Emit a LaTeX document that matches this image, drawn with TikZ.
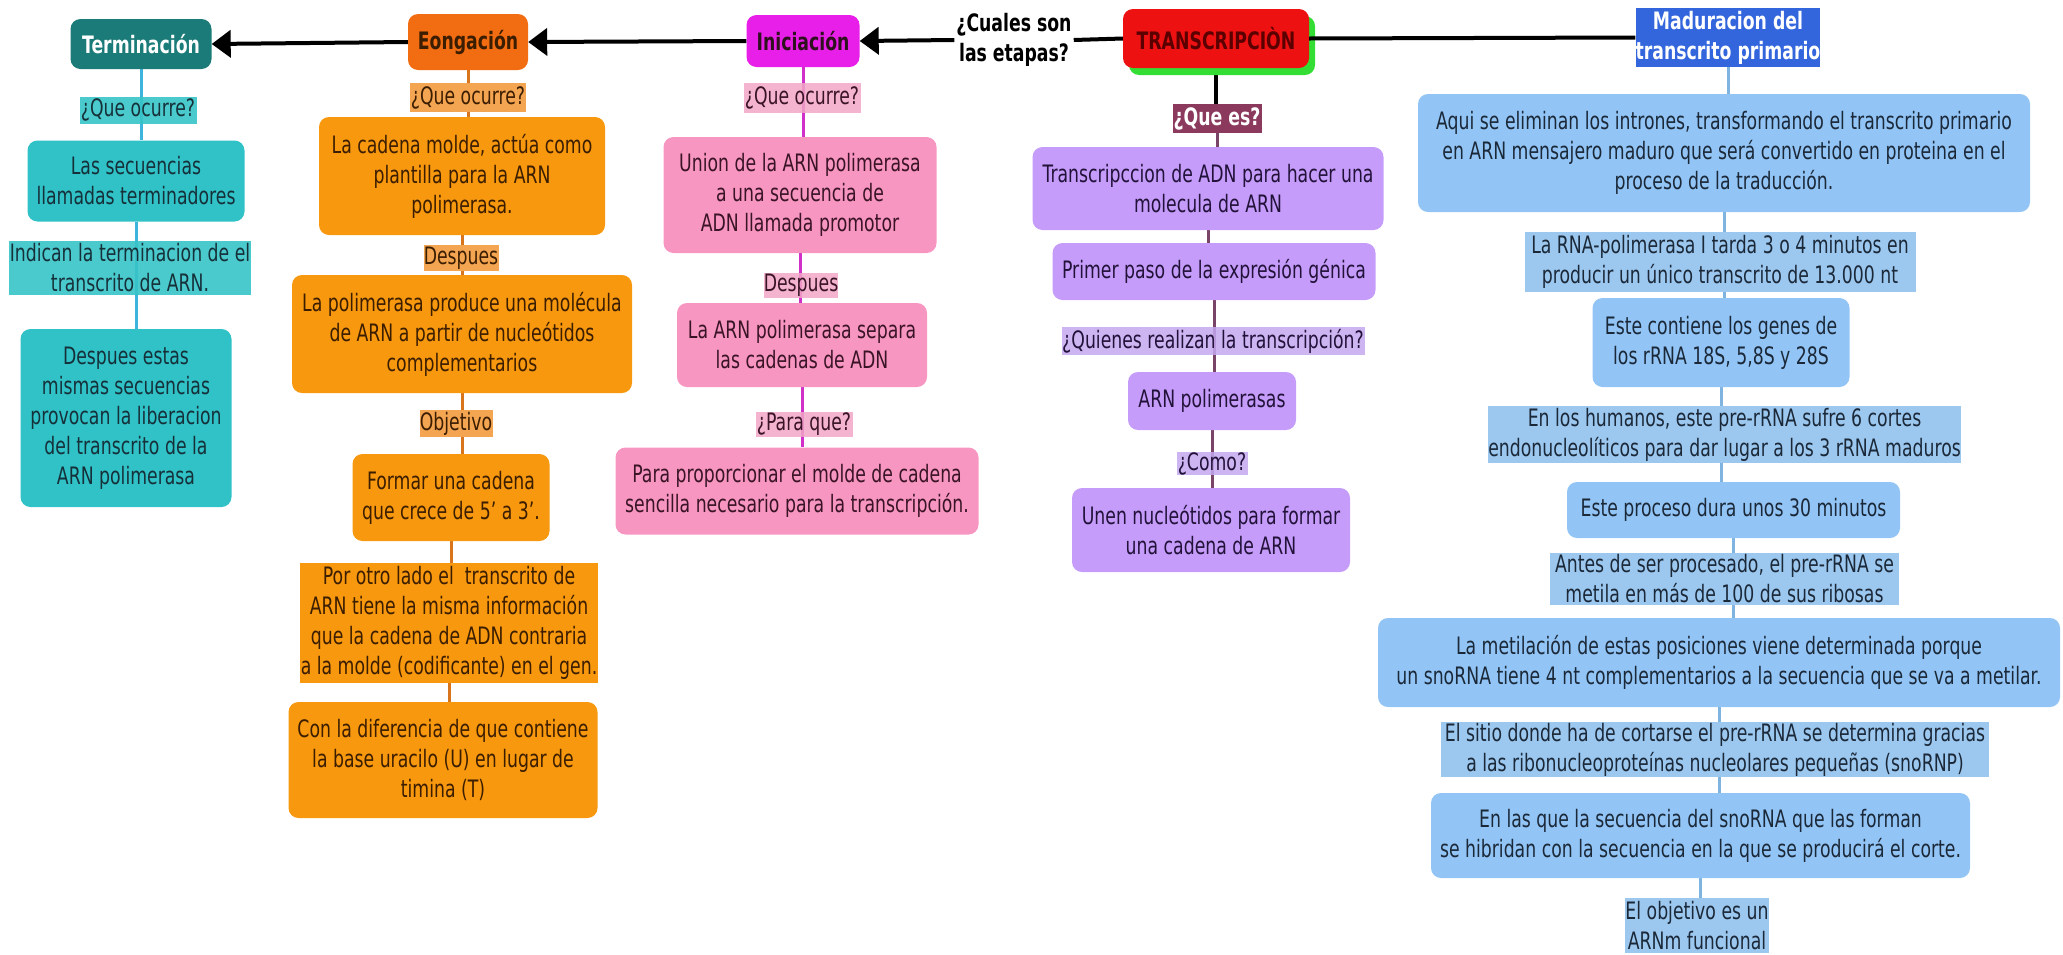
\documentclass[tikz,border=0pt]{standalone}
\usepackage{fontspec}
\setmainfont{DejaVu Sans}[FakeStretch=0.72]
\usetikzlibrary{arrows.meta,shadows}
\pgfdeclarelayer{bg}\pgfsetlayers{bg,main}
\definecolor{tealhead}{HTML}{1B7B78}
\definecolor{tealbox}{HTML}{30C2C6}
\definecolor{teallab}{HTML}{36C4C6}
\definecolor{tealline}{HTML}{3CB4DC}
\definecolor{tealtxt}{HTML}{16303A}
\definecolor{orghead}{HTML}{F26C12}
\definecolor{orgbox}{HTML}{F7980F}
\definecolor{orglab}{HTML}{F4A552}
\definecolor{orgline}{HTML}{D8741C}
\definecolor{orgtxt}{HTML}{3B1D00}
\definecolor{inihead}{HTML}{E81FE8}
\definecolor{pinkbox}{HTML}{F796C0}
\definecolor{pinklab}{HTML}{F2A6C6}
\definecolor{pinkline}{HTML}{D030C8}
\definecolor{pinktxt}{HTML}{3A1426}
\definecolor{trred}{HTML}{EE1111}
\definecolor{trgreen}{HTML}{33DD33}
\definecolor{trtxt}{HTML}{5A0000}
\definecolor{queshead}{HTML}{8B3A5E}
\definecolor{lavbox}{HTML}{C59CF9}
\definecolor{lavlab}{HTML}{C4A8F0}
\definecolor{lavline}{HTML}{7A4468}
\definecolor{lavtxt}{HTML}{22123A}
\definecolor{bluehead}{HTML}{3366DD}
\definecolor{bluebox}{HTML}{92C5F6}
\definecolor{bluelab}{HTML}{9CC8F0}
\definecolor{blueline}{HTML}{80B4E0}
\definecolor{bluetxt}{HTML}{1B2838}
\tikzset{
  every node/.style={font=\fontsize{24}{30}\selectfont, align=center, inner sep=0pt},
  hdr/.style={font=\fontsize{24}{30}\selectfont\bfseries},
  rbox/.style={rounded corners=10pt},
  tbox/.style={rbox, fill=tealbox, text=tealtxt},
  tlab/.style={fill=teallab, fill opacity=0.9, text opacity=1, text=tealtxt},
  obox/.style={rbox, fill=orgbox, text=orgtxt},
  olab/.style={fill=orglab, text=orgtxt},
  pbox/.style={rbox, fill=pinkbox, text=pinktxt},
  plab/.style={fill=pinklab, fill opacity=0.85, text opacity=1, text=pinktxt},
  lbox/.style={rbox, fill=lavbox, text=lavtxt},
  llab/.style={fill=lavlab, fill opacity=0.85, text opacity=1, text=lavtxt},
  bbox/.style={rbox, fill=bluebox, text=bluetxt},
  blab/.style={fill=bluelab, text=bluetxt},
  mainarrow/.style={line width=4pt, -{Triangle[length=19pt,width=27pt]}},
  mainline/.style={line width=4pt},
  conn/.style={line width=3pt},
}
\begin{document}
\begin{tikzpicture}
\useasboundingbox (0pt,0pt) rectangle (2063pt,-954pt);
\begin{scope}[x=1pt,y=-1pt]
% headers
\node[hdr, rbox, fill=tealhead, text=white, minimum width=141pt, minimum height=50pt] (term) at (141,44) {Terminación};
\node[hdr, rbox, fill=orghead, text=orgtxt, minimum width=120pt, minimum height=56pt] (eong) at (468,42) {Eongación};
\node[hdr, rbox, fill=inihead, text=pinktxt!80!black, minimum width=113pt, minimum height=52pt] (ini) at (803,41) {Iniciación};
\node[hdr, inner sep=2pt, text=black] (cual) at (1014,40) {¿Cuales son\\las etapas?};
\node[hdr, rbox, fill=trred, text=trtxt, minimum width=186pt, minimum height=59pt,
  drop shadow={shadow xshift=6pt, shadow yshift=-7pt, fill=trgreen, opacity=1}] (tr) at (1216,38.5) {TRANSCRIPCIÒN};
\node[hdr, fill=bluehead, text=white, minimum width=184pt, minimum height=59pt] (mad) at (1728,37.5) {Maduracion del\\transcrito primario};

% Terminacion subtree
\node[tlab, minimum width=117pt, minimum height=27pt] (tq) at (138,110) {¿Que ocurre?};
\node[tbox, minimum width=217pt, minimum height=81pt] (t1) at (136,181) {Las secuencias\\llamadas terminadores};
\node[tlab, minimum width=242pt, minimum height=54pt] (t2) at (130,268) {Indican la terminacion de el\\transcrito de ARN.};
\node[tbox, minimum width=211pt, minimum height=178pt] (t3) at (126,418) {Despues estas\\mismas secuencias\\provocan la liberacion\\del transcrito de la\\ARN polimerasa};

% Eongacion subtree
\node[olab, minimum width=116pt, minimum height=29pt] (eq) at (468,97.5) {¿Que ocurre?};
\node[obox, minimum width=286pt, minimum height=118pt] (e1) at (462,176) {La cadena molde, actúa como\\plantilla para la ARN\\polimerasa.};
\node[olab, minimum width=75pt, minimum height=26pt] (ed) at (461,258) {Despues};
\node[obox, minimum width=340pt, minimum height=118pt] (e2) at (462,334) {La polimerasa produce una molécula\\de ARN a partir de nucleótidos\\complementarios};
\node[olab, minimum width=73pt, minimum height=27pt] (eo) at (456,423.5) {Objetivo};
\node[obox, minimum width=197pt, minimum height=87pt] (e3) at (451,497.5) {Formar una cadena\\que crece de 5' a 3'.};
\node[olab, fill=orgbox, minimum width=298pt, minimum height=120pt] (e4) at (449,623) {Por otro lado el\ \ transcrito de\\ARN tiene la misma información\\que la cadena de ADN contraria\\a la molde (codificante) en el gen.};
\node[obox, minimum width=309pt, minimum height=116pt] (e5) at (443,760) {Con la diferencia de que contiene\\la base uracilo (U) en lugar de\\timina (T)};

% Iniciacion subtree
\node[plab, minimum width=117pt, minimum height=30pt] (iq) at (802,98) {¿Que ocurre?};
\node[pbox, minimum width=273pt, minimum height=116pt] (i1) at (800,195) {Union de la ARN polimerasa\\a una secuencia de\\ADN llamada promotor};
\node[plab, minimum width=73pt, minimum height=25pt] (id) at (801,285) {Despues};
\node[pbox, minimum width=250pt, minimum height=84pt] (i2) at (802,345) {La ARN polimerasa separa\\las cadenas de ADN};
\node[plab, minimum width=97pt, minimum height=25pt] (ip) at (804,424) {¿Para que?};
\node[pbox, minimum width=363pt, minimum height=87pt] (i3) at (797,491) {Para proporcionar el molde de cadena\\sencilla necesario para la transcripción.};

% Transcripcion subtree
\node[hdr, fill=queshead, text=white, minimum width=89pt, minimum height=29pt] (qe) at (1217,118.5) {¿Que es?};
\node[lbox, minimum width=351pt, minimum height=83pt] (l1) at (1208,188.5) {Transcripccion de ADN para hacer una\\molecula de ARN};
\node[lbox, minimum width=323pt, minimum height=57pt] (l2) at (1214,271.5) {Primer paso de la expresión génica};
\node[llab, minimum width=303pt, minimum height=28pt] (lq) at (1213,341) {¿Quienes realizan la transcripción?};
\node[lbox, minimum width=168pt, minimum height=58pt] (l3) at (1212,401) {ARN polimerasas};
\node[llab, minimum width=71pt, minimum height=23pt] (lc) at (1212,463.5) {¿Como?};
\node[lbox, minimum width=278pt, minimum height=84pt] (l4) at (1211,530) {Unen nucleótidos para formar\\una cadena de ARN};

% Maduracion subtree
\node[bbox, minimum width=612pt, minimum height=118pt] (b1) at (1724,153) {Aqui se eliminan los intrones, transformando el transcrito primario\\en ARN mensajero maduro que será convertido en proteina en el\\proceso de la traducción.};
\node[blab, minimum width=391pt, minimum height=60pt] (b2) at (1720,262) {La RNA-polimerasa I tarda 3 o 4 minutos en\\producir un único transcrito de 13.000 nt};
\node[bbox, minimum width=257pt, minimum height=89pt] (b3) at (1721,342.5) {Este contiene los genes de\\los rRNA 18S, 5,8S y 28S};
\node[blab, minimum width=473pt, minimum height=57pt] (b4) at (1724.5,434.5) {En los humanos, este pre-rRNA sufre 6 cortes\\endonucleolíticos para dar lugar a los 3 rRNA maduros};
\node[bbox, minimum width=333pt, minimum height=56pt] (b5) at (1733.5,510) {Este proceso dura unos 30 minutos};
\node[blab, minimum width=349pt, minimum height=52pt] (b6) at (1724.5,579) {Antes de ser procesado, el pre-rRNA se\\metila en más de 100 de sus ribosas};
\node[bbox, minimum width=682pt, minimum height=89pt] (b7) at (1719,662.5) {La metilación de estas posiciones viene determinada porque\\un snoRNA tiene 4 nt complementarios a la secuencia que se va a metilar.};
\node[blab, minimum width=548pt, minimum height=55pt] (b8) at (1715,749.5) {El sitio donde ha de cortarse el pre-rRNA se determina gracias\\a las ribonucleoproteínas nucleolares pequeñas (snoRNP)};
\node[bbox, minimum width=539pt, minimum height=85pt] (b9) at (1700.5,835.5) {En las que la secuencia del snoRNA que las forman\\se hibridan con la secuencia en la que se producirá el corte.};
\node[blab, minimum width=142pt, minimum height=55pt] (b10) at (1697,925.5) {El objetivo es un\\ARNm funcional};

% main row connectors
\draw[mainarrow] (eong.west) -- (term.east);
\draw[mainarrow] (ini.west) -- (eong.east);
\draw[mainarrow] (cual.west) -- (ini.east);
\draw[mainline] (tr.west) -- (cual.east);
\draw[mainline] (tr.east) -- (mad.west);

\begin{pgfonlayer}{bg}
\draw[conn, tealline] (term.south) -- (term.south |- t1.north);
\draw[conn, tealline] (t1.south) -- (t1.south |- t3.north);
\draw[conn, orgline] (eong.south) -- (eong.south |- e1.north);
\draw[conn, orgline] (e1.south) -- (e1.south |- e2.north);
\draw[conn, orgline] (e2.south) -- (e2.south |- e3.north);
\draw[conn, orgline] (e3.south) -- (e3.south |- e4.north);
\draw[conn, orgline] (e4.south) -- (e4.south |- e5.north);
\draw[conn, pinkline] (ini.south) -- (ini.south |- i1.north);
\draw[conn, pinkline] (i1.south) -- (i1.south |- i2.north);
\draw[conn, pinkline] (i2.south) -- (i2.south |- i3.north);
\draw[mainline] (tr.south) -- (tr.south |- qe.north);
\draw[conn, lavline] (qe.south) -- (qe.south |- l1.north);
\draw[conn, lavline] (l1.south) -- (l1.south |- l2.north);
\draw[conn, lavline] (l2.south) -- (l2.south |- l3.north);
\draw[conn, lavline] (l3.south) -- (l3.south |- l4.north);
\draw[conn, blueline] (mad.south) -- (mad.south |- b1.north);
\draw[conn, blueline] (b1.south) -- (b1.south |- b3.north);
\draw[conn, blueline] (b3.south) -- (b3.south |- b5.north);
\draw[conn, blueline] (b5.south) -- (b5.south |- b7.north);
\draw[conn, blueline] (b7.south) -- (b7.south |- b9.north);
\draw[conn, blueline] (b9.south) -- (b9.south |- b10.north);
\end{pgfonlayer}
\end{scope}
\end{tikzpicture}
\end{document}
